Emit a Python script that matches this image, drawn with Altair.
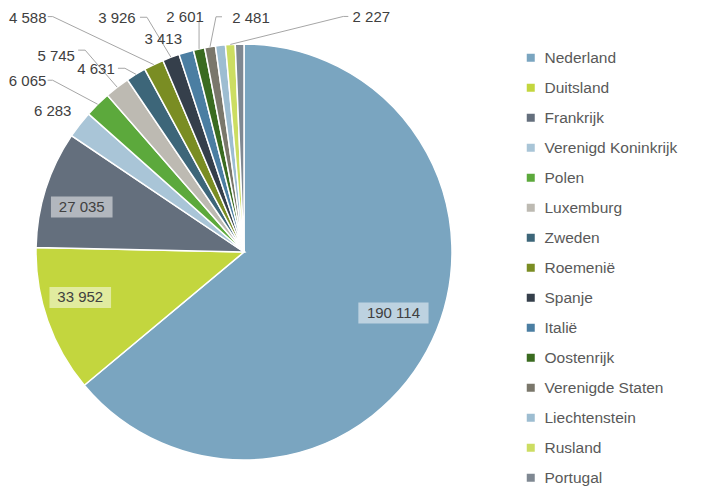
import altair as alt
import pandas as pd

# ---- data ----
countries = ["Nederland", "Duitsland", "Frankrijk", "Verenigd Koninkrijk", "Polen",
             "Luxemburg", "Zweden", "Roemenië", "Spanje", "Italië", "Oostenrijk",
             "Verenigde Staten", "Liechtenstein", "Rusland", "Portugal"]
values = [190114, 33952, 27035, 6283, 6065, 5745, 4631, 4588, 3926, 3413, 2601,
          2481, 2300, 2227, 2000]
labels = ["190 114", "33 952", "27 035", "6 283", "6 065", "5 745", "4 631", "4 588",
          "3 926", "3 413", "2 601", "2 481", "", "2 227", ""]
colors = ["#7AA5C0", "#C3D63E", "#646F7D", "#A9C5D7", "#5CA93C", "#BDBAB2", "#3D6679",
          "#7A8D23", "#353F4B", "#4B7EA2", "#3A6B20", "#7A776B", "#9DBDD1", "#CCDD62",
          "#7F8892"]

# ---- label layout (offsets in px) ----
kind = ["inner", "inner", "inner", "outer", "outer", "outer", "outer", "outer",
        "outer", "outer", "outer", "outer", "none", "outer", "none"]
line_dx = [0, 0, 0, 0, -45, -32, -11, -101, -24, 0, 0, 6, 0, 113, 0]
line_dy = [0, 0, 0, 0, -24, -37, -6, -48, -40, 0, -28, -30, 0, -28, 0]
text_dx = [0, -8, -5, -27, -25, -29, -29, -25, -30, -23, -14, 35, 0, 28, 0]
text_dy = [-9, -9, 5, -14, 1, 6, 1, 1, 1, -13, -4, 1, 0, 1, 0]
has_line = [0, 0, 0, 0, 1, 1, 1, 1, 1, 0, 1, 1, 0, 1, 0]
hook = [0, 0, 0, 0, -5, -7, -7, -5, -7, 0, 0, 6, 0, 5, 0]

CX, CY, R, RIN = 236, 244, 208, 165
FONT = "Liberation Sans"

df = pd.DataFrame({
    "country": countries, "value": values, "label": labels,
    "order": list(range(len(countries))), "kind": kind,
    "ldx": line_dx, "ldy": line_dy, "tdx": text_dx, "tdy": text_dy,
    "line": has_line, "hook": hook,
})

base = alt.Chart(df).transform_window(
    cum="sum(value)", sort=[alt.SortField("order")], frame=[None, 0]
).transform_joinaggregate(
    total="sum(value)"
).transform_calculate(
    a="2*PI*(datum.cum - datum.value/2)/datum.total"
).transform_calculate(
    sx=f"{CX}+{R}*sin(datum.a)", sy=f"{CY}-{R}*cos(datum.a)",
    ix=f"{CX}+{RIN}*sin(datum.a)+datum.tdx", iy=f"{CY}-{RIN}*cos(datum.a)+datum.tdy",
).transform_calculate(
    lx="datum.sx+datum.ldx", ly="datum.sy+datum.ldy",
    bw="length(datum.label)*8.6+10",
).transform_calculate(
    tx="datum.lx+datum.tdx", ty="datum.ly+datum.tdy",
    hx="datum.lx+datum.hook",
    bx1="datum.ix-datum.bw/2", bx2="datum.ix+datum.bw/2",
    by1="datum.iy-10.5", by2="datum.iy+10.5",
)

arc = alt.Chart(df).mark_arc(outerRadius=R, stroke="white", strokeWidth=1.5).encode(
    theta=alt.Theta("value:Q", stack=True),
    order=alt.Order("order:Q", sort="ascending"),
    color=alt.Color(
        "country:N", sort=countries,
        scale=alt.Scale(domain=countries, range=colors),
        legend=alt.Legend(
            title=None, orient="none", legendX=515, legendY=42,
            symbolType="square", symbolSize=64, symbolStrokeWidth=0,
            labelFont=FONT, labelFontSize=15.5, labelColor="#595959",
            rowPadding=13, labelOffset=6, padding=0,
        ),
    ),
    x=alt.value(CX), y=alt.value(CY),
)

X = lambda f: alt.X(f, scale=None, axis=None)
Y = lambda f: alt.Y(f, scale=None, axis=None)

boxes = base.transform_filter("datum.kind == 'inner'").mark_rect(
    color="white", opacity=0.5
).encode(x=X("bx1:Q"), x2="bx2:Q", y=Y("by1:Q"), y2="by2:Q")

inner_text = base.transform_filter("datum.kind == 'inner'").mark_text(
    font=FONT, fontSize=15, color="#404040", align="center", baseline="middle"
).encode(x=X("ix:Q"), y=Y("iy:Q"), text="label:N")

lines = base.transform_filter("datum.line == 1").mark_rule(
    color="#A6A6A6", strokeWidth=1
).encode(x=X("sx:Q"), y=Y("sy:Q"), x2="lx:Q", y2="ly:Q")

hooks = base.transform_filter("datum.hook != 0").mark_rule(
    color="#A6A6A6", strokeWidth=1
).encode(x=X("lx:Q"), y=Y("ly:Q"), x2="hx:Q", y2="ly:Q")

outer_text = base.transform_filter("datum.kind == 'outer'").mark_text(
    font=FONT, fontSize=15, color="#404040", align="center", baseline="middle"
).encode(x=X("tx:Q"), y=Y("ty:Q"), text="label:N")

chart = alt.layer(arc, boxes, inner_text, lines, hooks, outer_text).properties(
    width=686, height=478, padding=0,
    autosize=alt.AutoSizeParams(type="none"),
).configure_view(stroke=None)

chart.save("out.html", embed_options={"renderer": "svg", "actions": False})
